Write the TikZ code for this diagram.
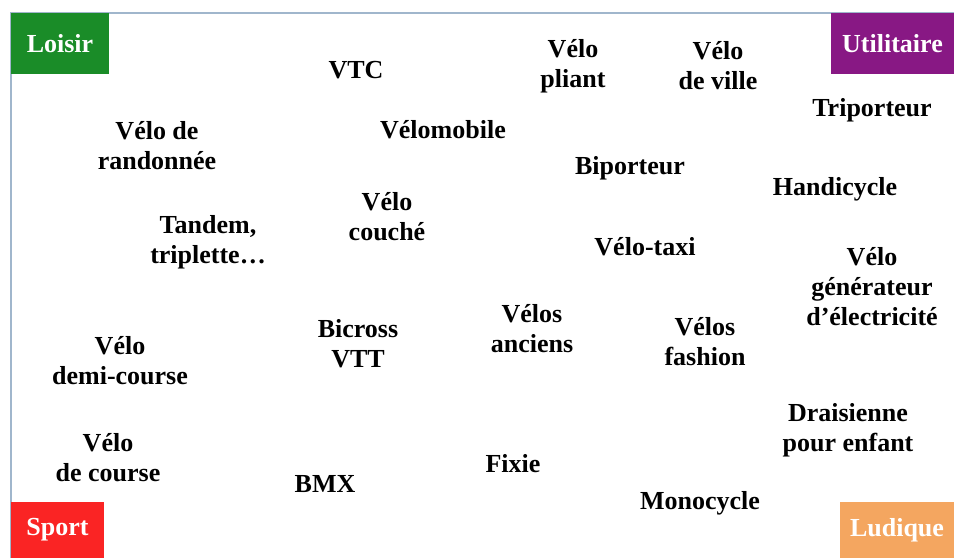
\documentclass[tikz,border=0pt]{standalone}
\usepackage{fontspec}
\setmainfont{Liberation Serif}
\usepackage{tikz}

\definecolor{loisirgreen}{RGB}{26,140,40}
\definecolor{utilpurple}{RGB}{136,24,132}
\definecolor{sportred}{RGB}{250,36,36}
\definecolor{ludiqueorange}{RGB}{244,166,96}
\definecolor{framegray}{RGB}{160,182,204}

\tikzset{
  velo/.style={font=\fontsize{26}{30}\selectfont\bfseries, align=center, inner sep=0pt},
  corner/.style={velo, text=white, minimum height=#1},
}

\begin{document}
\begin{tikzpicture}[x=1pt,y=-1pt]
    \useasboundingbox (0,0) rectangle (954,558);
    % Draw the frame
    \draw[framegray, line width=1.5pt] (11,558) -- (11,13) -- (954,13);
    % Draw the corner boxes
    \node[corner=61pt, fill=loisirgreen, minimum width=98pt] (loisir) at (60,43.5) {Loisir};
    \node[corner=61pt, fill=utilpurple, minimum width=123pt] (utilitaire) at (892.5,43.5) {Utilitaire};
    \node[corner=56pt, fill=sportred, minimum width=93pt] (sport) at (57.5,530) {Sport};
    \node[corner=56pt, fill=ludiqueorange, minimum width=114pt] (ludique) at (897,530) {Ludique};
    % Place the bikes
    \node[velo] (vtc) at (356,70) {VTC};
    \node[velo] (pliant) at (573,66) {Vélo\\pliant};
    \node[velo] (ville) at (718,66) {Vélo\\de ville};
    \node[velo] (triporteur) at (872,110) {Triporteur};
    \node[velo] (randonnee) at (157,146) {Vélo de\\randonnée};
    \node[velo] (velomobile) at (443,130) {Vélomobile};
    \node[velo] (biporteur) at (630,168) {Biporteur};
    \node[velo] (handicycle) at (835,189) {Handicycle};
    \node[velo] (couche) at (387,217) {Vélo\\couché};
    \node[velo] (tandem) at (208,242) {Tandem,\\triplette…};
    \node[velo] (taxi) at (645,247) {Vélo-taxi};
    \node[velo] (generateur) at (872,287) {Vélo\\générateur\\d’électricité};
    \node[velo] (bicross) at (358,344) {Bicross\\VTT};
    \node[velo] (anciens) at (532,329) {Vélos\\anciens};
    \node[velo] (fashion) at (705,342) {Vélos\\fashion};
    \node[velo] (demicourse) at (120,361) {Vélo\\demi-course};
    \node[velo] (draisienne) at (848,430) {Draisienne\\pour enfant};
    \node[velo] (course) at (108,458) {Vélo\\de course};
    \node[velo] (fixie) at (513,464) {Fixie};
    \node[velo] (bmx) at (325,484) {BMX};
    \node[velo] (monocycle) at (700,503) {Monocycle};
\end{tikzpicture}
\end{document}
